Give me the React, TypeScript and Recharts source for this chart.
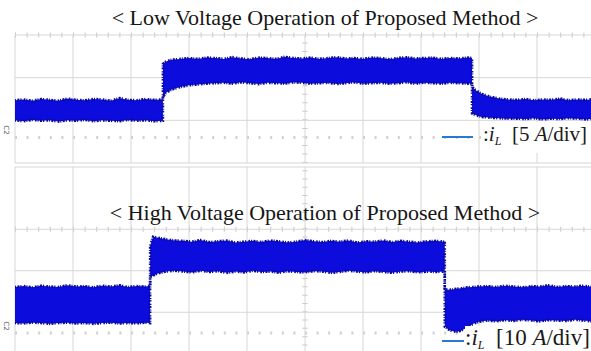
import React from 'react';
import { ComposedChart, Area, XAxis, YAxis, CartesianGrid, ReferenceLine } from 'recharts';

// ---------- Low voltage panel (5 A/div) ----------
const lowTime = [
  0, 0.15, 0.3, 0.45, 0.6, 0.75, 0.9, 1.05, 1.2, 1.35, 1.5, 1.65, 1.8, 1.95, 2.1, 2.25, 2.4, 2.55,
  2.55,
  2.6, 2.7, 2.85, 3.0, 3.15, 3.3,
  3.45, 3.6, 3.75, 3.9, 4.05, 4.2, 4.35, 4.5, 4.65, 4.8, 4.95, 5.1, 5.25, 5.4, 5.55, 5.7, 5.85, 6.0, 6.15, 6.3,
  6.45, 6.6, 6.75, 6.9, 7.05, 7.2, 7.35, 7.5, 7.65, 7.8,
  7.88,
  7.88,
  7.95, 8.05, 8.2, 8.35, 8.5,
  8.65, 8.8, 8.95, 9.1, 9.25, 9.4, 9.55, 9.7, 9.85, 10,
];
const lowMax = [
  4.35, 4.45, 4.3, 4.5, 4.4, 4.3, 4.55, 4.4, 4.35, 4.5, 4.45, 4.3, 4.6, 4.4, 4.35, 4.5, 4.4, 4.45,
  8.6,
  8.9, 9.1, 9.2, 9.3, 9.2, 9.35,
  9.3, 9.2, 9.4, 9.25, 9.15, 9.35, 9.3, 9.2, 9.45, 9.3, 9.25, 9.35, 9.2, 9.3, 9.4,
  9.25, 9.3, 9.2, 9.35, 9.3, 9.15, 9.3, 9.4, 9.25, 9.3, 9.35, 9.2, 9.3, 9.25, 9.35,
  9.3,
  5.9,
  5.5, 5.1, 4.75, 4.55, 4.45,
  4.4, 4.5, 4.35, 4.45, 4.4, 4.55, 4.35, 4.45, 4.4, 4.5,
];
const lowMin = [
  2.0, 1.9, 2.05, 1.95, 2.0, 1.85, 2.0, 1.95, 2.05, 1.9, 2.0, 1.95, 1.9, 2.05, 1.95, 2.0, 1.9, 1.95,
  4.7,
  5.2, 5.6, 5.9, 6.1, 6.2, 6.3,
  6.35, 6.4, 6.3, 6.45, 6.35, 6.25, 6.4, 6.35, 6.3, 6.45, 6.4, 6.3, 6.35, 6.4, 6.25,
  6.35, 6.45, 6.3, 6.35, 6.4, 6.3, 6.35, 6.45, 6.3, 6.4, 6.35, 6.3, 6.4, 6.35, 6.3,
  6.35,
  2.8,
  2.6, 2.4, 2.3, 2.25, 2.2,
  2.2, 2.15, 2.25, 2.1, 2.2, 2.15, 2.25, 2.2, 2.1, 2.2,
];

// ---------- High voltage panel (10 A/div) ----------
const highTime = [
  0, 0.15, 0.3, 0.45, 0.6, 0.75, 0.9, 1.05, 1.2, 1.35, 1.5, 1.65, 1.8, 1.95, 2.1, 2.25, 2.33,
  2.33,
  2.38, 2.45, 2.6, 2.75,
  2.9, 3.05, 3.2, 3.35, 3.5, 3.65, 3.8, 3.95, 4.1, 4.25, 4.4, 4.55, 4.7, 4.85, 5.0, 5.15,
  5.3, 5.45, 5.6, 5.75, 5.9, 6.05, 6.2, 6.35, 6.5, 6.65, 6.8, 6.95, 7.1, 7.25, 7.4,
  7.41,
  7.41,
  7.48, 7.55, 7.62, 7.7, 7.8, 7.9, 8.0,
  8.15, 8.3, 8.45, 8.6, 8.75, 8.9, 9.05, 9.2, 9.35, 9.5, 9.65, 9.8, 9.95, 10,
];
const highMax = [
  11.1, 11.3, 11.0, 11.4, 11.2, 11.1, 11.5, 11.2, 11.3, 11.0, 11.4, 11.2, 11.5, 11.1, 11.3, 11.2, 11.4,
  21.0,
  23.2, 23.0, 22.6, 22.3,
  22.2, 22.0, 22.4, 21.9, 22.1, 22.3, 21.8, 22.0, 22.2, 21.9, 22.3, 22.1, 21.8, 22.0, 22.4, 22.1,
  21.9, 22.2, 22.0, 22.3, 21.8, 22.1, 22.0, 22.3, 21.9, 22.2, 22.0, 21.8, 22.1, 22.2, 22.0,
  22.1,
  10.6,
  10.4, 10.5, 10.7, 10.8, 11.0, 11.1, 11.2,
  11.3, 11.1, 11.4, 11.2, 11.0, 11.3, 11.2, 11.5, 11.1, 11.3, 11.2, 11.4, 11.1, 11.3,
];
const highMin = [
  2.4, 2.3, 2.5, 2.4, 2.2, 2.4, 2.5, 2.3, 2.4, 2.2, 2.4, 2.5, 2.3, 2.4, 2.3, 2.5, 2.4,
  13.5,
  13.8, 14.3, 14.8, 15.0,
  14.8, 14.6, 15.0, 14.7, 14.9, 14.5, 14.8, 14.6, 15.0, 14.7, 14.8, 14.5, 14.9, 14.7, 14.6, 14.9,
  14.8, 14.5, 14.7, 15.0, 14.8, 14.6, 14.9, 14.7, 14.5, 14.8, 14.9, 14.6, 14.8, 14.7, 14.8,
  14.7,
  1.5,
  0.8, 0.4, 0.3, 0.6, 1.4, 2.2, 2.7,
  3.0, 2.8, 3.1, 2.9, 3.2, 3.0, 2.8, 3.1, 3.0, 2.9, 3.2, 3.0, 2.8, 3.0,
];

// ---------- grid / labels ----------
const timeDivs = [0, 1, 2, 3, 4, 5, 6, 7, 8, 9, 10];
const lowGridY = [-3, 2, 7, 12];
const highGridY = [5, 15, 25, 35, 40];
const lowTitle = '< Low Voltage Operation of Proposed Method >';
const highTitle = '< High Voltage Operation of Proposed Method >';
const lowScale = '5';
const highScale = '10';

const lowData = lowTime.map((t, i) => ({ t, iL: [lowMin[i], lowMax[i]] }));
const highData = highTime.map((t, i) => ({ t, iL: [highMin[i], highMax[i]] }));

const GRID = '#d6d6d6';
const BAND_FILL = '#0c0cdc';
const BAND_EDGE = '#0a0a96';
const LEG = '#2a78d2';
const SERIF = '"Liberation Serif", "Times New Roman", serif';

function Panel(props: {
  data: any[];
  yDomain: [number, number];
  gridY: number[];
  tickY: number;
  minorY: number;
  top: number;
  height: number;
  margin: any;
}) {
  const { data, yDomain, gridY, tickY, minorY, top, height, margin } = props;
  return (
    <>
      {/* back layer: scope graticule marks */}
      <div style={{ position: 'absolute', left: 0, top, width: 600, height }}>
        <ComposedChart width={600} height={height} data={data} margin={margin}>
          <XAxis dataKey="t" type="number" domain={[0, 10]} hide allowDataOverflow />
          <YAxis type="number" domain={yDomain} hide allowDataOverflow />
          <ReferenceLine y={tickY} stroke="#c6c6c6" strokeWidth={5} strokeDasharray="1 10.6" />
          <ReferenceLine x={5} stroke="#c6c6c6" strokeWidth={5} strokeDasharray={`1 ${minorY - 1}`} />
          <ReferenceLine y={0} stroke="#d0d0d0" strokeWidth={3} strokeDasharray="2 9.6" />
        </ComposedChart>
      </div>
      {/* front layer: grid + waveform */}
      <div style={{ position: 'absolute', left: 0, top, width: 600, height }}>
        <ComposedChart width={600} height={height} data={data} margin={margin}>
          <XAxis dataKey="t" type="number" domain={[0, 10]} ticks={timeDivs} hide allowDataOverflow />
          <YAxis type="number" domain={yDomain} ticks={gridY} hide allowDataOverflow />
          <CartesianGrid stroke={GRID} strokeWidth={1} fill="none" />
          <Area
            dataKey="iL"
            type="linear"
            fill={BAND_FILL}
            fillOpacity={1}
            stroke={BAND_EDGE}
            strokeWidth={2.6}
            strokeDasharray="1 1.4 2 1 1.2 2.2 1.6 1"
            dot={false}
            activeDot={false}
            isAnimationActive={false}
          />
        </ComposedChart>
      </div>
    </>
  );
}

function LegendLabel(props: {
  scale: string;
  top: number;
  lineW: number;
  lineX: number;
  textX: number;
  size: number;
}) {
  const { scale, top, lineW, lineX, textX, size } = props;
  return (
    <>
      <div
        style={{
          position: 'absolute',
          left: textX,
          top,
          fontFamily: SERIF,
          fontSize: size,
          lineHeight: '24px',
          whiteSpace: 'nowrap',
          color: '#1a1a1a',
          background: '#fff',
          paddingRight: 6,
        }}
      >
        :<i>i</i>
        <sub style={{ fontSize: 12, fontStyle: 'italic', verticalAlign: '-4px' }}>L</sub>
        {'\u00a0\u00a0'}[{scale} <i>A</i>/div]
      </div>
      <div style={{ position: 'absolute', left: lineX, top: top + 14, width: lineW, height: 2, background: LEG }} />
    </>
  );
}

const titleStyle: React.CSSProperties = {
  position: 'absolute',
  left: 0,
  width: 650,
  textAlign: 'center',
  fontFamily: SERIF,
  fontSize: 22,
  lineHeight: '26px',
  color: '#151515',
  whiteSpace: 'nowrap',
};

const markerStyle: React.CSSProperties = {
  position: 'absolute',
  left: 1,
  fontFamily: 'DejaVu Sans, sans-serif',
  fontSize: 7,
  color: '#555',
  transform: 'rotate(90deg)',
};

export default function App() {
  return (
    <div
      style={{
        position: 'fixed',
        left: 0,
        top: 0,
        width: 591,
        height: 351,
        overflow: 'hidden',
        background: '#fff',
      }}
    >
      <Panel
        data={lowData}
        yDomain={[-3, 12]}
        gridY={lowGridY}
        tickY={12}
        minorY={8.53}
        top={0}
        height={170}
        margin={{ top: 35, right: 5, left: 15, bottom: 7 }}
      />
      <Panel
        data={highData}
        yDomain={[-5, 40]}
        gridY={highGridY}
        tickY={25}
        minorY={8.3}
        top={160}
        height={200}
        margin={{ top: 7, right: 5, left: 15, bottom: 6.25 }}
      />
      <div style={{ ...titleStyle, top: 5 }}>{lowTitle}</div>
      <div style={{ ...titleStyle, top: 200 }}>{highTitle}</div>
      <LegendLabel scale={lowScale} top={122} lineW={31} lineX={442} textX={483} size={21} />
      <LegendLabel scale={highScale} top={326} lineW={22} lineX={442} textX={465} size={23} />
      <div style={{ ...markerStyle, top: 126 }}>C2</div>
      <div style={{ ...markerStyle, top: 322 }}>C2</div>
    </div>
  );
}
